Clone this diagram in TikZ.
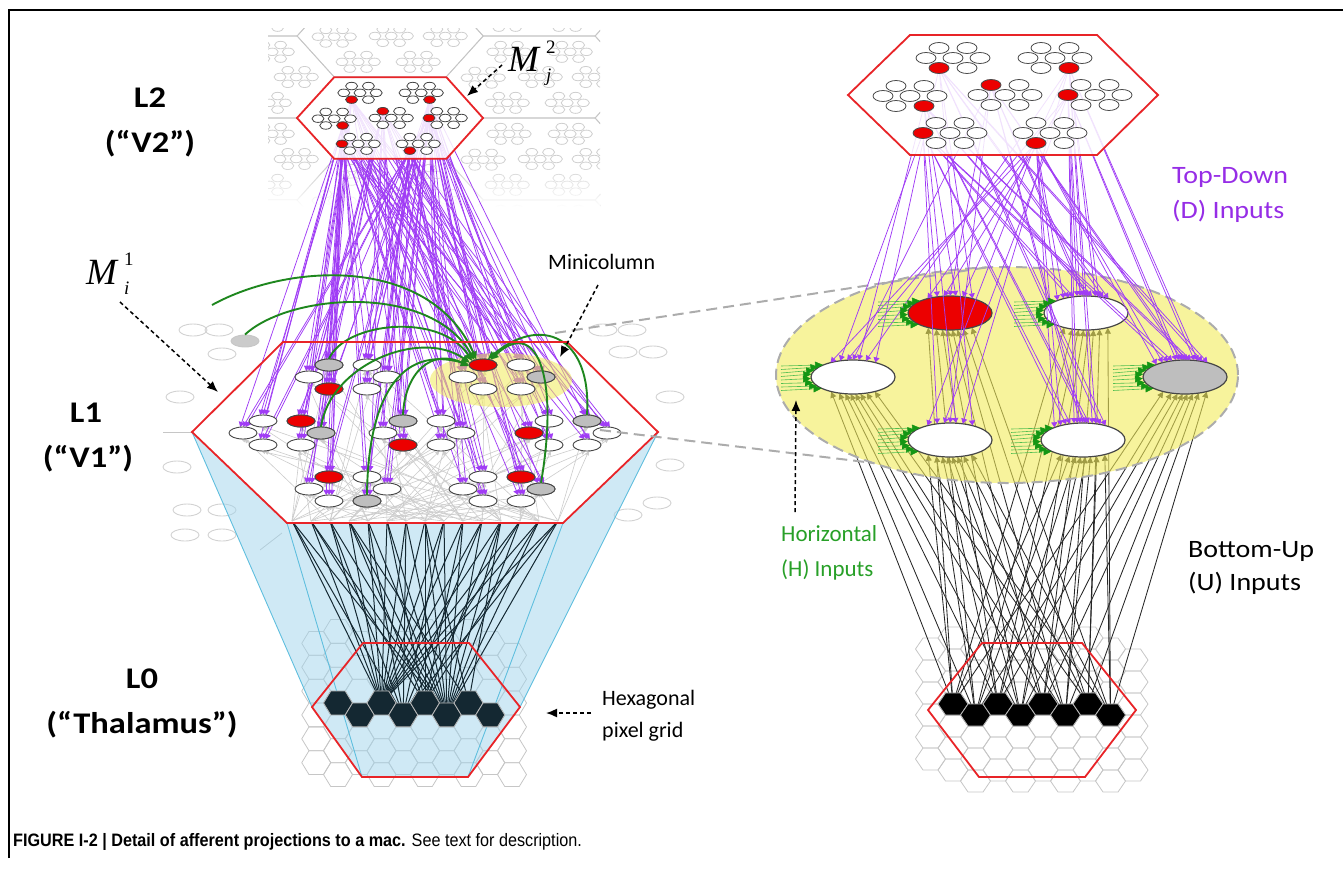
\documentclass[tikz,border=0pt]{standalone}
\usepackage{fontspec}
\setmainfont{Carlito}
\newfontfamily\labfont[FakeStretch=1.15]{Carlito}
\newfontfamily\rlabfont[FakeStretch=1.12]{Carlito}
\newfontfamily\capfont[FakeStretch=0.9]{Liberation Sans}
\newfontfamily\mfont{Liberation Serif}
\usetikzlibrary{arrows.meta,shapes.geometric,fadings}

\definecolor{hexred}{RGB}{232,36,40}
\definecolor{cellred}{RGB}{236,0,0}
\definecolor{cellgray}{RGB}{190,190,190}
\definecolor{cellline}{RGB}{70,70,70}
\definecolor{purp}{RGB}{160,60,245}
\definecolor{purplab}{RGB}{150,45,230}
\definecolor{grn}{RGB}{30,135,30}
\definecolor{grnlab}{RGB}{40,160,40}
\definecolor{grnline}{RGB}{80,190,80}
\definecolor{grnhead}{RGB}{20,150,20}
\definecolor{yel}{RGB}{242,235,90}
\definecolor{bluef}{RGB}{160,212,236}
\definecolor{bluel}{RGB}{95,190,222}
\definecolor{darkteal}{RGB}{20,40,50}

\newcommand\hexshape{(-155,0) -- (-93,-60) -- (94,-60) -- (155,0) -- (94,60) -- (-93,60) -- cycle}
\newcommand\hexcontent[2]{%
 \foreach \cx/\cy/\ri in {-50/-37/5,52/-37/6,-93/1/6,2/0/0,92/0/2,-53/38/2,47/38/5}{%
  \begin{scope}[shift={(\cx,\cy)}]
  \foreach \ii/\dx/\dy in {0/-14/-10,1/14/-10,2/-27/0,3/0/0,4/27/0,5/-14/10,6/14/10}{%
   \def\fc{white}%
   \ifnum#2=1 \ifnum\ii=\ri\relax \def\fc{cellred}\fi\fi
   \draw[draw=#1,line width=0.8pt,fill=\fc] (\dx,\dy) ellipse [x radius=10,y radius=5.5];
  }
  \end{scope}}}
\newcommand\hexat[5]{%
 \draw[#5] ({#1+#3},{#2}) -- ({#1+0.5*#3},{#2+0.866*#3*#4}) -- ({#1-0.5*#3},{#2+0.866*#3*#4}) -- ({#1-#3},{#2}) -- ({#1-0.5*#3},{#2-0.866*#3*#4}) -- ({#1+0.5*#3},{#2-0.866*#3*#4}) -- cycle;}

\tikzset{
 redhex/.style={draw=hexred,line width=1.8pt},
 lcell/.style={ellipse,draw=cellline,line width=0.9pt,minimum width=28pt,minimum height=12pt,inner sep=0pt},
 lghost/.style={ellipse,minimum width=28pt,minimum height=12pt,inner sep=0pt},
 faint/.style={ellipse,draw=gray!35,line width=0.9pt,minimum width=28pt,minimum height=12pt,inner sep=0pt},
 bcell/.style={ellipse,draw=cellline,line width=1.2pt,minimum width=84pt,minimum height=34pt,inner sep=0pt},
 bghost/.style={ellipse,minimum width=84pt,minimum height=34pt,inner sep=0pt},
 purpline/.style={draw=purp,line width=0.75pt,-{Triangle[length=5pt,width=6pt]}},
 grayup/.style={draw=gray!40,line width=0.6pt,-{Triangle[length=4pt,width=4pt]}},
 darkline/.style={draw=darkteal,line width=1pt},
 blackup/.style={draw=black!85,line width=0.85pt,-{Triangle[length=6pt,width=6pt]}},
 greenc/.style={draw=grn,line width=1.9pt,-{Triangle[length=8pt,width=7pt]}},
 greenarr/.style={draw=grnline,line width=0.6pt,-{Triangle[length=8pt,width=7pt,color=grnhead]}},
 gridl/.style={draw=gray!45,line width=0.8pt},
 dasharr/.style={draw=black,line width=1.5pt,dash pattern=on 4pt off 3pt,-{Latex[length=11pt,width=9pt]}},
 connd/.style={draw=gray!65,line width=2pt,dash pattern=on 11pt off 6pt},
 lab/.style={font=\labfont\bfseries\fontsize{30}{34}\selectfont,anchor=base,inner sep=0pt},
 rlab/.style={font=\rlabfont\fontsize{25}{30}\selectfont,anchor=base west,inner sep=0pt},
 mlab/.style={font=\fontsize{22}{26}\selectfont,anchor=base west,inner sep=0pt},
}

\begin{document}
\begin{tikzpicture}[x=1pt,y=-1pt]
\useasboundingbox (0,0) rectangle (1343,868);

% ---------- ghost nodes and coordinates
\foreach \cn/\cx/\cy in {A/348/377,M/502/377,L/282/433,C/422/433,R/568/433,P/348/489,Q/502/489}{
  \foreach \kk/\dx/\dy in {0/-19/-12,1/19/-12,2/-39/0,3/39/0,4/-19/12,5/19/12}{
    \node[lghost] (\cn\kk) at ({\cx+\dx},{\cy+\dy}) {};}}
\foreach \bb/\bx/\by in {1/950/313,2/1086/313,3/853/377,4/1185/377,5/950/440,6/1083/440}{
  \node[bghost] (B\bb) at (\bx,\by) {};}
\begin{scope}[shift={(390,118)},xscale=0.6,yscale=0.68]
 \foreach \nn/\sx/\sy in {1/-64/-27,2/66/-27,3/-79/11,4/-12/-10,5/65/0,6/-80/38,7/33/48}{\coordinate (ls\nn) at (\sx,\sy);}
\end{scope}
\begin{scope}[shift={(1003,95)}]
 \foreach \nn/\sx/\sy in {1/-64/-27,2/66/-27,3/-79/11,4/-12/-10,5/65/0,6/-80/38,7/33/48}{\coordinate (rs\nn) at (\sx,\sy);}
\end{scope}
\foreach \jj in {0,...,14}{\coordinate (lb\jj) at ({292+19*\jj},521);}
\foreach \gc in {0,...,7}{\coordinate (lp\gc) at ({338+21.75*\gc},{703+11.93*mod(\gc,2)});}
\foreach \gc in {0,...,7}{\coordinate (rq\gc) at ({953+22.5*\gc},{704+11*mod(\gc,2)});}

% ---------- frame
\draw[line width=1.2pt] (9,858) -- (9,10) -- (1343,10);

% ---------- L2 background tiling
\begin{scope}
 \clip (268,28) rectangle (600,206);
 \foreach \tx/\ty in {390/36,390/200,539/77,539/159,241/77,241/159,539/-5,539/241,241/-5,688/118,688/36,688/200}{
   \begin{scope}[shift={(\tx,\ty)},xscale=0.6,yscale=0.68]
     \draw[gray!45,line width=0.8pt] \hexshape;
     \hexcontent{gray!38}{0}
   \end{scope}}
 \fill[white,path fading=north] (268,160) rectangle (600,207);
\end{scope}

% ---------- faint neighbours of L1
\foreach \nn/\fx/\fy in {1/193/330,2/219/330,3/222/354,4/180/397,5/177/467,6/187/510,7/222/510,8/185/535,9/222/535,10/603/330,11/632/330,12/623/352,13/653/352,14/670/397,15/670/465,16/657/503,17/628/515}{
  \node[faint] (f\nn) at (\fx,\fy) {};}
\node[faint,fill=cellgray!80,draw=gray!45] (outgray) at (245,341) {};
\draw[gray!45,line width=0.8pt] (163,432) -- (192,432);
\draw[gray!45,line width=0.8pt] (260,550) -- (282,533);

% ---------- L0 grid (left)
\foreach \gc in {-4,...,11}{
 \foreach \gr in {-4,...,4}{
  \pgfmathsetmacro\hx{338+21.75*\gc}
  \pgfmathsetmacro\hy{703+23.86*\gr+11.93*mod(abs(\gc),2)}
  \pgfmathtruncatemacro\ok{and(and(abs(\hx-417)<=106,abs(\hy-707)<=76),abs(\hx-417)+0.6*abs(\hy-707)<=140)}
  \ifnum\ok=1 \hexat{\hx}{\hy}{14.5}{0.95}{gridl}\fi
 }}

% ---------- blue frustum
\fill[bluef,opacity=0.5] (192,432) -- (312,707) -- (362,777) -- (468,777) -- (520,707) -- (658,432) -- cycle;
\draw[bluel,line width=0.9pt] (192,432) -- (312,707);
\draw[bluel,line width=0.9pt] (287,523) -- (362,777);
\draw[bluel,line width=0.9pt] (658,432) -- (520,707);
\draw[bluel,line width=0.9pt] (563,523) -- (468,777);

% ---------- dark bottom-up lines (left)
\foreach \jj in {0,...,14}{
  \draw[darkline] (lb\jj) -- (lp2);
  \draw[darkline] (lb\jj) -- (lp5);}
\foreach \jj in {1,3,...,13}{\draw[darkline] (lb\jj) -- (lp4);}
\foreach \jj in {0,2,...,14}{\draw[darkline] (lb\jj) -- (lp3);}
\foreach \jj in {3,7,11}{\draw[darkline] (lb\jj) -- (lp6);}
\foreach \gc in {0,...,7}{
  \pgfmathsetmacro\hx{338+21.75*\gc}
  \pgfmathsetmacro\hy{703+11.93*mod(\gc,2)}
  \hexat{\hx}{\hy}{14.5}{0.95}{fill=darkteal,draw=gray!55,line width=0.8pt}}
\draw[redhex] (312,707) -- (363,643) -- (469,643) -- (520,707) -- (468,777) -- (362,777) -- cycle;

% ---------- L1 hexagon body
\fill[white] (192,432) -- (283,342) -- (567,342) -- (658,432) -- (563,523) -- (287,523) -- cycle;

% gray bottom-up lines inside L1
\foreach \cn/\ci in {A/0,M/1,L/2,C/3,R/4,P/5,Q/6}{
 \foreach \kk in {0,...,5}{
  \pgfmathtruncatemacro\ba{mod(3*\ci+2*\kk,15)}
  \pgfmathtruncatemacro\bc{mod(3*\ci+2*\kk+7,15)}
  \draw[grayup] (lb\ba) -- (\cn\kk.255);
  \draw[grayup] (lb\bc) -- (\cn\kk.285);}}

% purple top-down lines (left)
\foreach \cn/\ci in {A/0,M/1,L/2,C/3,R/4,P/5,Q/6}{
 \foreach \kk in {0,...,5}{
  \pgfmathtruncatemacro\sa{mod(\ci+\kk,7)+1}
  \pgfmathtruncatemacro\sbb{mod(\ci+\kk+3,7)+1}
  \pgfmathtruncatemacro\scc{mod(2*\ci+\kk+5,7)+1}
  \draw[purpline] (ls\sa) -- (\cn\kk.65);
  \draw[purpline] (ls\sbb) -- (\cn\kk.115);
  \draw[purpline] (ls\scc) -- (\cn\kk.90);}}

% L2 hexagon
\begin{scope}[shift={(390,118)},xscale=0.6,yscale=0.68]
  \fill[white,opacity=0.85] \hexshape;
  \hexcontent{cellline}{1}
  \draw[redhex] \hexshape;
\end{scope}

% dashed lens lines
\coordinate (mcA) at (555,333);
\coordinate (mcB) at (600,430);

% minicolumn
\node[ellipse,fill=yel,fill opacity=0.55,minimum width=142pt,minimum height=54pt,inner sep=0pt] (minicol) at (501,380) {};

% L1 visible cells
\foreach \nm in {A,M,L,C,R,P,Q}{\foreach \kk in {0,...,5}{\node[lcell,fill=white] (v\nm\kk) at (\nm\kk) {};}}
\foreach \nm in {A4,M0,L1,C4,R2,P0,Q1}{\node[lcell,fill=cellred] (r\nm) at (\nm) {};}
\foreach \nm in {A0,M3,L3,C0,R1,P5,Q3}{\node[lcell,fill=cellgray] (g\nm) at (\nm) {};}

% green horizontal curves
\coordinate (gsrc) at (212,305);
\draw[greenc] (gsrc) .. controls (290,262) and (430,256) .. (M0.140);
\draw[greenc] (outgray.north) .. controls (290,293) and (430,283) .. (M0.150);
\draw[greenc] (A0.north) .. controls (345,322) and (440,312) .. (M0.160);
\draw[greenc] (L3.north) .. controls (330,365) and (420,328) .. (M0.170);
\draw[greenc] (C0.north) .. controls (405,372) and (432,348) .. (M0.185);
\draw[greenc] (P5.north) .. controls (368,398) and (400,345) .. (M0.178);
\draw[greenc] (R1.north) .. controls (592,335) and (540,315) .. (M0.50);
\draw[greenc] (Q3.north) .. controls (560,372) and (535,318) .. (M0.35);

% L1 outline
\draw[redhex] (192,432) -- (283,342) -- (567,342) -- (658,432) -- (563,523) -- (287,523) -- cycle;

% ---------- right side: L0 grid
\foreach \gc in {-5,...,12}{
 \foreach \gr in {-5,...,5}{
  \pgfmathsetmacro\hx{953+22.5*\gc}
  \pgfmathsetmacro\hy{704+22*\gr+11*mod(abs(\gc),2)}
  \pgfmathtruncatemacro\ok{and(and(abs(\hx-1032)<=102,abs(\hy-706)<=78),abs(\hx-1032)+0.6*abs(\hy-706)<=140)}
  \ifnum\ok=1 \hexat{\hx}{\hy}{15}{0.847}{gridl}\fi
 }}

% black bottom-up lines (right)
\foreach \gc in {0,...,7}{
 \pgfmathtruncatemacro\ang{270+(\gc-3.5)*16}
 \foreach \bb in {1,...,6}{\draw[blackup] (rq\gc) -- (B\bb.\ang);}}
\foreach \gc in {0,...,7}{
  \pgfmathsetmacro\hx{953+22.5*\gc}
  \pgfmathsetmacro\hy{704+11*mod(\gc,2)}
  \hexat{\hx}{\hy}{15}{0.847}{fill=black,draw=gray!55,line width=0.8pt}}
\draw[redhex] (928,710) -- (982,643) -- (1082,643) -- (1136,710) -- (1085,777) -- (979,777) -- cycle;

% big macrocolumn ellipse
\node[ellipse,fill=yel,fill opacity=0.6,minimum width=462pt,minimum height=216pt,inner sep=0pt] (bigmac) at (1007,375) {};
\draw[connd] (mcA) -- (bigmac.100);
\draw[connd] (mcB) -- (bigmac.213);
\node[ellipse,connd,minimum width=462pt,minimum height=216pt,inner sep=0pt] (bigmacb) at (1007,375) {};

% visible big cells
\foreach \bb/\col in {1/cellred,2/white,3/white,4/cellgray,5/white,6/white}{
  \node[bcell,fill=\col] (Bv\bb) at (B\bb) {};}

% purple top-down (right)
\foreach \jj in {1,...,7}{
 \pgfmathtruncatemacro\ang{90+(\jj-4)*19}
 \pgfmathtruncatemacro\angb{90+(\jj-4)*19+9}
 \foreach \bb in {1,...,6}{\draw[purpline] (rs\jj) -- (B\bb.\ang);}
 \foreach \bb in {2,4,6}{\draw[purpline] (rs\jj) -- (B\bb.\angb);}}

% green horizontal arrows (right)
\foreach \bb/\bx/\by in {1/950/313,2/1086/313,3/853/377,4/1185/377,5/950/440,6/1083/440}{
 \foreach \ii/\ang in {0/158,1/164,2/170,3/176,4/182,5/188,6/194,7/200}{
   \coordinate (hs\bb\ii) at ({\bx-72},{\by-11+3.5*\ii});
   \draw[greenarr] (hs\bb\ii) -- (B\bb.\ang);}}

% top-right hexagon
\begin{scope}[shift={(1003,95)}]
  \fill[white,opacity=0.85] \hexshape;
  \hexcontent{gray!60!black}{1}
  \draw[redhex] \hexshape;
\end{scope}

% ---------- labels
\node[lab] (labL2a) at (150,107) {L2};
\node[lab] (labL2b) at (150,152) {(“V2”)};
\node[lab] (labL1a) at (86,422) {L1};
\node[lab] (labL1b) at (88,467) {(“V1”)};
\node[lab] (labL0a) at (142,688) {L0};
\node[lab] (labL0b) at (142,733) {(“Thalamus”)};

\node[rlab,text=purplab] (td1) at (1172,183) {Top-Down};
\node[rlab,text=purplab] (td2) at (1172,218) {(D) Inputs};
\node[rlab] (bu1) at (1188,557) {Bottom-Up};
\node[rlab] (bu2) at (1188,590) {(U) Inputs};
\node[mlab,text=grnlab,font=\fontsize{23}{26}\selectfont] (hz1) at (781,541) {Horizontal};
\node[mlab,text=grnlab,font=\fontsize{23}{26}\selectfont] (hz2) at (781,576) {(H) Inputs};
\node[mlab] (minilab) at (548,269) {Minicolumn};
\node[mlab] (hexlab1) at (602,705) {Hexagonal};
\node[mlab] (hexlab2) at (602,737) {pixel grid};

\node[anchor=base west,inner sep=0pt,font=\mfont\itshape\fontsize{37}{37}\selectfont] (Mj) at (508,71) {M};
\node[anchor=base west,inner sep=0pt,font=\mfont\fontsize{19}{19}\selectfont] (Mj2) at (546,53) {2};
\node[anchor=base west,inner sep=0pt,font=\mfont\itshape\fontsize{19}{19}\selectfont] (Mjj) at (546,81) {j};
\node[anchor=base west,inner sep=0pt,font=\mfont\itshape\fontsize{37}{37}\selectfont] (Mi) at (86,284) {M};
\node[anchor=base west,inner sep=0pt,font=\mfont\fontsize{19}{19}\selectfont] (Mi1) at (124,265) {1};
\node[anchor=base west,inner sep=0pt,font=\mfont\itshape\fontsize{19}{19}\selectfont] (Mii) at (124,294) {i};

% dashed pointer arrows
\coordinate (mjt) at (502,65);  \coordinate (mjh) at (467,96);
\coordinate (mit) at (120,302); \coordinate (mih) at (218,392);
\coordinate (mct) at (598,285); \coordinate (mch) at (560,357);
\coordinate (hxt) at (591,713); \coordinate (hxh) at (546,713);
\coordinate (hzt) at (795,512); \coordinate (hzh) at (796,400);
\draw[dasharr] (mjt) -- (mjh);
\draw[dasharr] (mit) -- (mih);
\draw[dasharr] (mct) -- (mch);
\draw[dasharr] (hxt) -- (hxh);
\draw[dasharr] (hzt) -- (hzh);

% caption
\node[anchor=base west,inner sep=0pt,font=\capfont\fontsize{18}{21}\selectfont] (cap) at (13,846)
  {\textbf{FIGURE I-2 | Detail of afferent projections to a mac.} See text for description.};
\end{tikzpicture}
\end{document}
